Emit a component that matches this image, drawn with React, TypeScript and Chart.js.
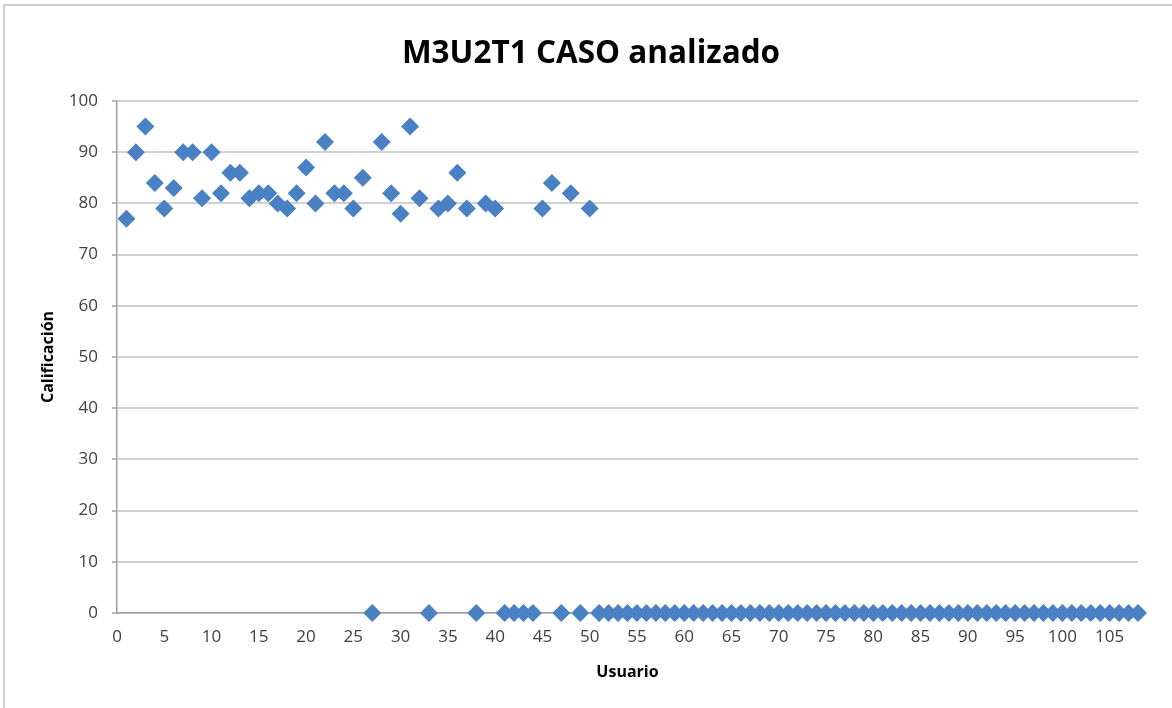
import React, { useEffect, useRef } from "react";
import { Chart, registerables } from "chart.js";

Chart.register(...registerables);

const chartTitle = "M3U2T1 CASO analizado";
const xAxisTitle = "Usuario";
const yAxisTitle = "Calificación";

const usuarios = [
  1, 2, 3, 4, 5, 6, 7, 8, 9, 10,
  11, 12, 13, 14, 15, 16, 17, 18, 19, 20,
  21, 22, 23, 24, 25, 26, 27, 28, 29, 30,
  31, 32, 33, 34, 35, 36, 37, 38, 39, 40,
  41, 42, 43, 44, 45, 46, 47, 48, 49, 50,
  51, 52, 53, 54, 55, 56, 57, 58, 59, 60,
  61, 62, 63, 64, 65, 66, 67, 68, 69, 70,
  71, 72, 73, 74, 75, 76, 77, 78, 79, 80,
  81, 82, 83, 84, 85, 86, 87, 88, 89, 90,
  91, 92, 93, 94, 95, 96, 97, 98, 99, 100,
  101, 102, 103, 104, 105, 106, 107, 108,
];

const calificaciones = [
  77, 90, 95, 84, 79, 83, 90, 90, 81, 90,
  82, 86, 86, 81, 82, 82, 80, 79, 82, 87,
  80, 92, 82, 82, 79, 85, 0, 92, 82, 78,
  95, 81, 0, 79, 80, 86, 79, 0, 80, 79,
  0, 0, 0, 0, 79, 84, 0, 82, 0, 79,
  0, 0, 0, 0, 0, 0, 0, 0, 0, 0,
  0, 0, 0, 0, 0, 0, 0, 0, 0, 0,
  0, 0, 0, 0, 0, 0, 0, 0, 0, 0,
  0, 0, 0, 0, 0, 0, 0, 0, 0, 0,
  0, 0, 0, 0, 0, 0, 0, 0, 0, 0,
  0, 0, 0, 0, 0, 0, 0, 0,
];

const xTickValues = [0, 5, 10, 15, 20, 25, 30, 35, 40, 45, 50, 55, 60, 65, 70, 75, 80, 85, 90, 95, 100, 105];
const yTickValues = [0, 10, 20, 30, 40, 50, 60, 70, 80, 90, 100];
const xMin = 0;
const xMax = 108;
const yMin = 0;
const yMax = 100;

const FONT = '"Open Sans", "DejaVu Sans", sans-serif';

const titlePlugin = {
  id: "excelTitle",
  afterDraw(chart: any) {
    const ctx = chart.ctx;
    ctx.save();
    ctx.font = `bold 31.5px ${FONT}`;
    ctx.fillStyle = "#000000";
    ctx.textAlign = "center";
    ctx.textBaseline = "middle";
    ctx.fillText(chartTitle, 591, 54);
    ctx.restore();
  },
};

export default function App() {
  const canvasRef = useRef<HTMLCanvasElement>(null);

  useEffect(() => {
    const canvas = canvasRef.current;
    if (!canvas) return;
    const points = usuarios.map((u, i) => ({ x: u, y: calificaciones[i] }));
    const chart = new Chart(canvas, {
      type: "scatter",
      data: {
        datasets: [
          {
            data: points,
            pointStyle: "rectRot",
            pointRadius: 9,
            pointHoverRadius: 9,
            backgroundColor: "#4a80c4",
            borderColor: "#4a80c4",
            borderWidth: 0,
            clip: false as any,
          },
        ],
      },
      plugins: [titlePlugin],
      options: {
        animation: false,
        responsive: false,
        events: [],
        layout: { padding: { left: 0, right: 34, top: 101, bottom: 0 } },
        plugins: {
          legend: { display: false },
          tooltip: { enabled: false },
          title: { display: false },
        },
        scales: {
          x: {
            type: "linear",
            min: xMin,
            max: xMax,
            afterBuildTicks: (s: any) => {
              s.ticks = xTickValues.map((v) => ({ value: v }));
            },
            afterFit: (s: any) => {
              s.height = 95;
            },
            ticks: {
              color: "#404040",
              font: { family: FONT, size: 17 },
              padding: 14,
              maxRotation: 0,
              autoSkip: false,
            },
            grid: { display: false, drawTicks: false },
            border: { display: true, color: "#a0a0a0", width: 1.5 },
            title: {
              display: true,
              text: xAxisTitle,
              color: "#000000",
              font: { family: FONT, size: 16, weight: "bold" },
              padding: { top: 0, bottom: 26 },
            },
          },
          y: {
            type: "linear",
            min: yMin,
            max: yMax,
            afterBuildTicks: (s: any) => {
              s.ticks = yTickValues.map((v) => ({ value: v }));
            },
            afterFit: (s: any) => {
              s.width = 117;
            },
            ticks: {
              color: "#404040",
              font: { family: FONT, size: 17 },
              padding: 14,
              autoSkip: false,
            },
            grid: {
              color: "#d0d0d0",
              lineWidth: 2,
              drawTicks: true,
              tickLength: 5,
              tickColor: "#a0a0a0",
              tickWidth: 1.5,
            },
            border: { display: true, color: "#a0a0a0", width: 1.5 },
            title: {
              display: true,
              text: yAxisTitle,
              color: "#000000",
              font: { family: FONT, size: 16, weight: "bold" },
              padding: { top: 39, bottom: 0 },
            },
          },
        },
      },
    });
    return () => chart.destroy();
  }, []);

  return (
    <div
      style={{
        position: "fixed",
        left: 0,
        top: 0,
        width: 1172,
        height: 708,
        overflow: "hidden",
        background: "#ffffff",
      }}
    >
      <div
        style={{
          position: "absolute",
          left: 3,
          top: 4,
          width: 1300,
          height: 900,
          border: "2px solid #cdcdcd",
          boxSizing: "border-box",
        }}
      />
      <canvas
        ref={canvasRef}
        width={1172}
        height={708}
        style={{ position: "absolute", left: 0, top: 0, width: 1172, height: 708 }}
      />
    </div>
  );
}
